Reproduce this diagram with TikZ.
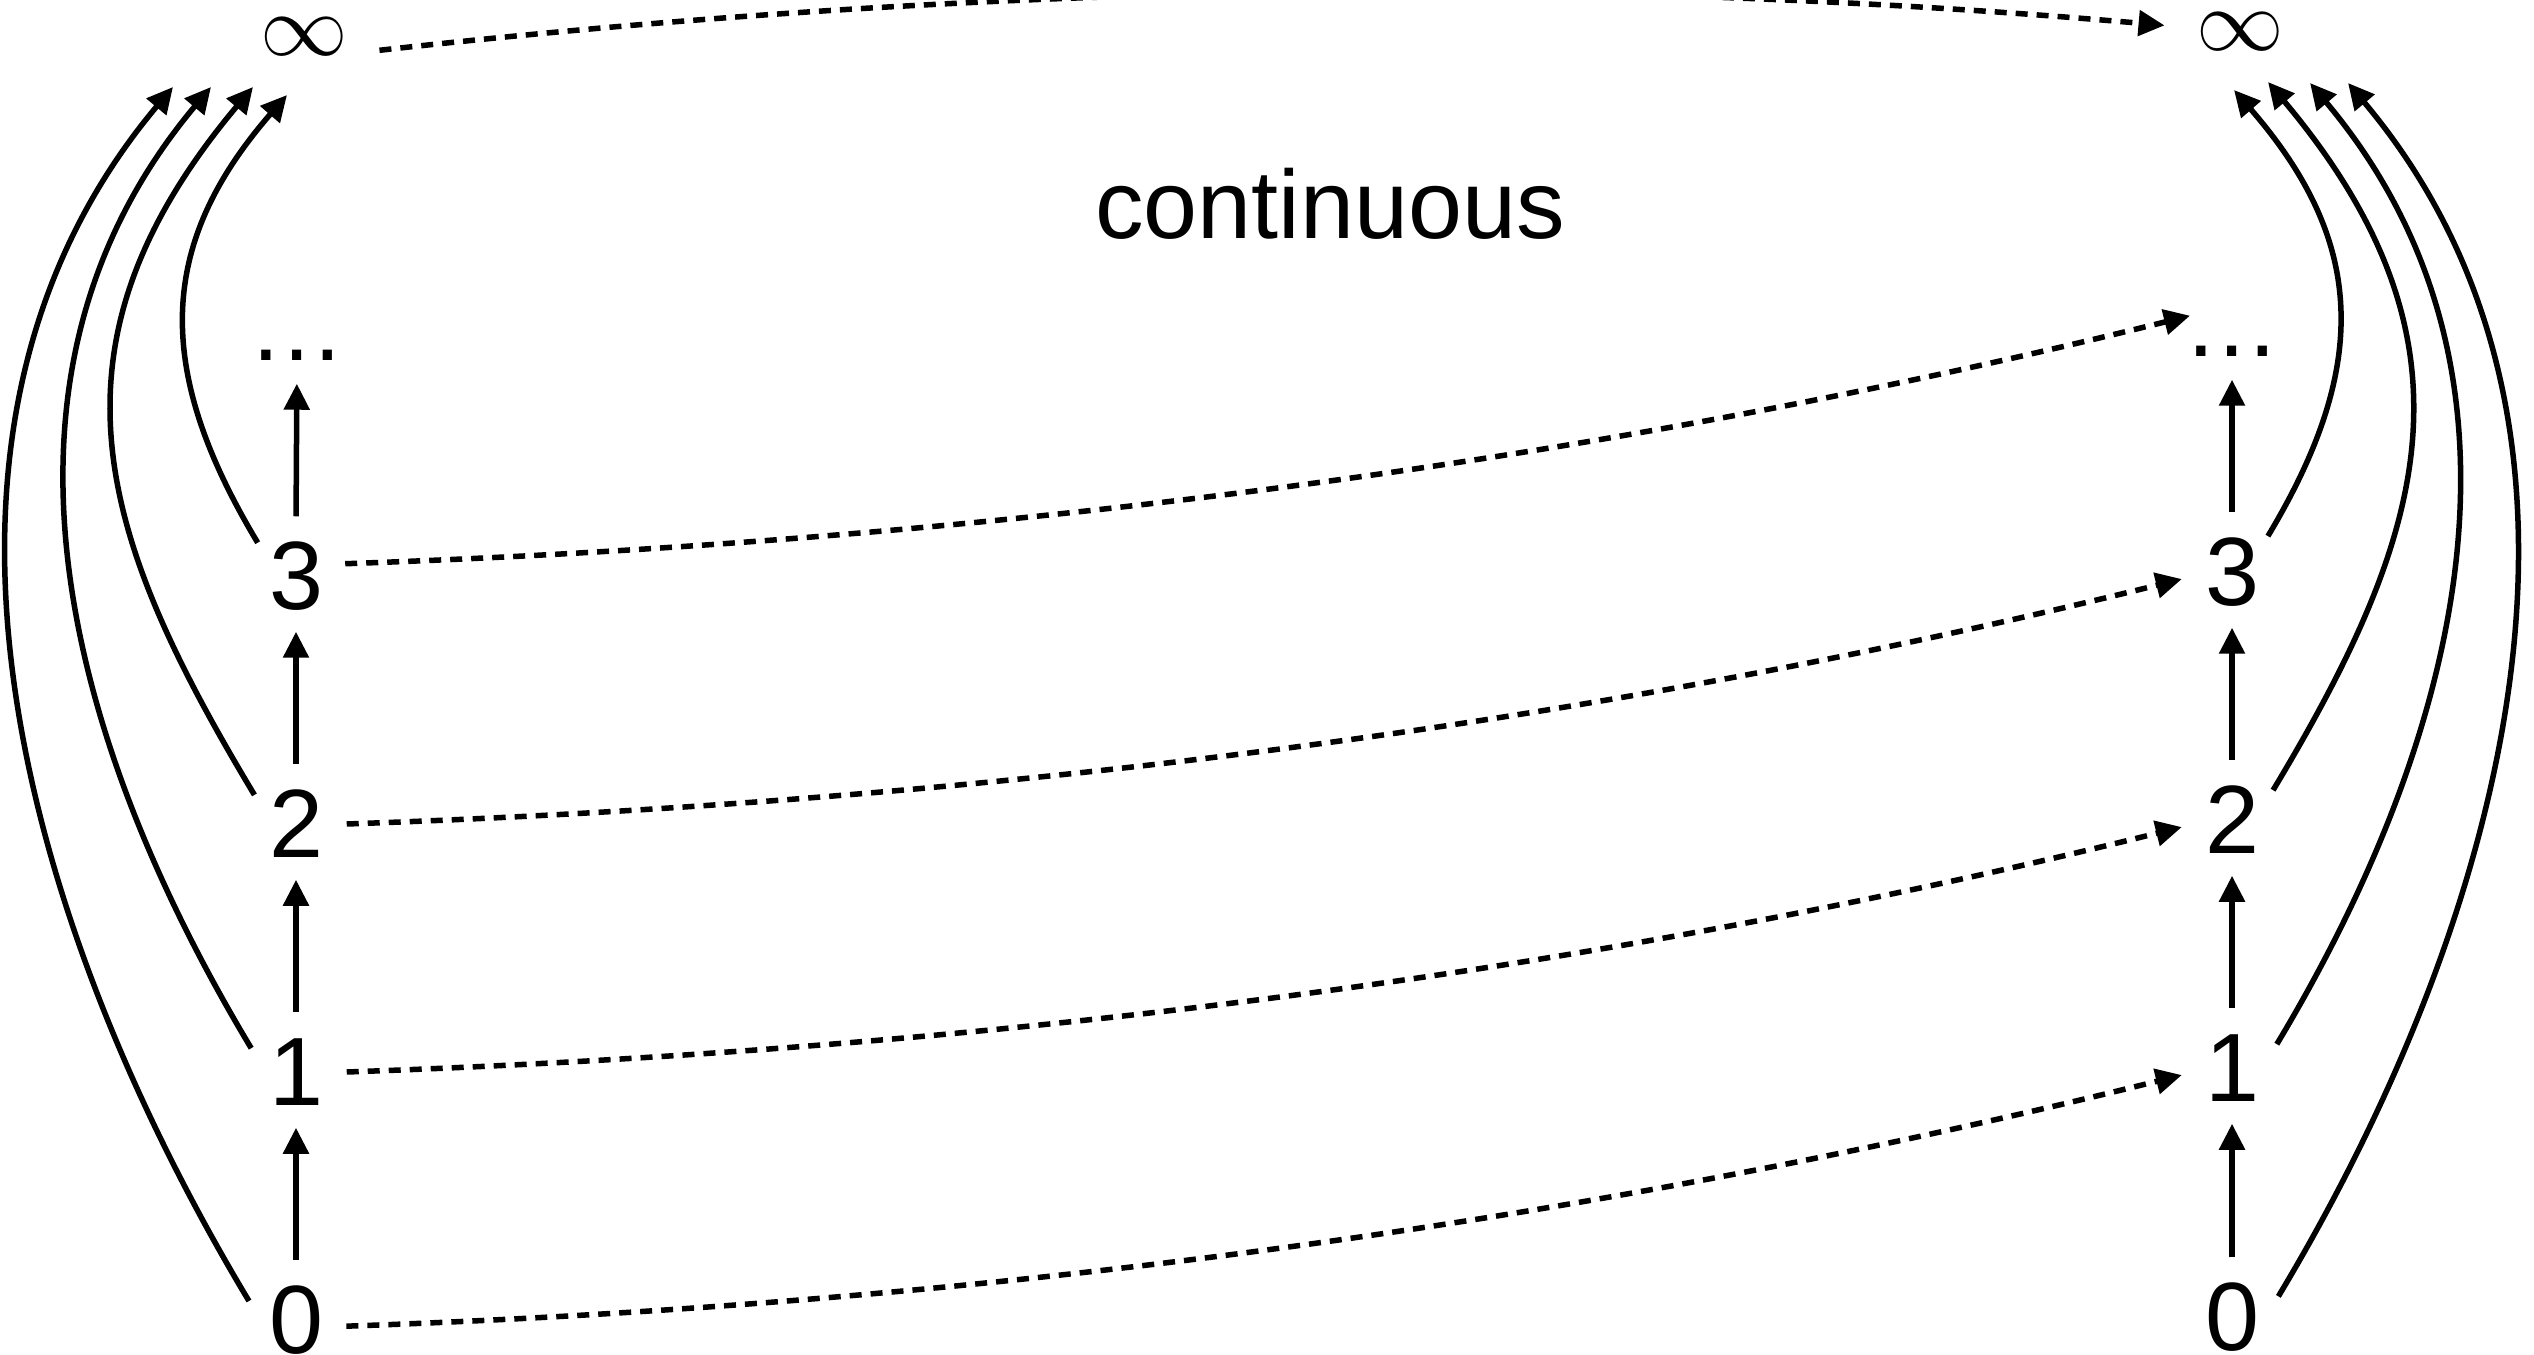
\documentclass[tikz,border=0pt]{standalone}
\usepackage{fontspec}
\setmainfont{Liberation Sans}
\usetikzlibrary{arrows.meta,calc}
\begin{document}
\begin{tikzpicture}[x=0.01cm,y=0.01cm,
  txt/.style={font=\fontsize{27.6pt}{33pt}\selectfont},
  num/.style={txt,circle,minimum size=1.0cm,inner sep=0pt},
  dots/.style={txt,rectangle,text height=0.69cm,text depth=0pt,inner sep=0pt,anchor=base},
  inf/.style={rectangle,inner xsep=0.31cm,inner ysep=0.05cm,font=\fontsize{24.2pt}{29pt}\selectfont},
  ln/.style={line width=0.055cm},
  arr/.style={ln,-{Triangle[length=0.26cm,width=0.25cm]}},
  up/.style={arr,shorten <=0.09cm,shorten >=0.05cm},
  dsh/.style={arr,dash pattern=on 0.12cm off 0.09cm},
  cross/.style={out=2,in=194,out distance=6.6cm,in distance=5.9cm},
]
\clip (0,0) rectangle (2534,1354);

% left column
\node[num] (l0) at (296,34) {0};
\node[num] (l1) at (296,282) {1};
\node[num] (l2) at (296,530) {2};
\node[num] (l3) at (296,778) {3};
\node[dots] (ld) at (297,993) {…};
\node[inf] (iL) at (304,1317) {$\infty$};

% right column
\node[num] (r0) at (2232,37) {0};
\node[num] (r1) at (2232,286) {1};
\node[num] (r2) at (2232,534) {2};
\node[num] (r3) at (2232,782) {3};
\node[dots] (rd) at (2232,997) {…};
\node[inf] (iR) at (2240,1322) {$\infty$};

\node[txt,anchor=base] (ct) at (1330,1115) {continuous};

% arrow targets near the infinity nodes
\coordinate (tL0) at ($(iL)+(-131,-50)$);
\coordinate (tL1) at ($(iL)+(-93,-50)$);
\coordinate (tL2) at ($(iL)+(-51,-50)$);
\coordinate (tL3) at ($(iL)+(-17,-58)$);
\coordinate (tR0) at ($(iR)+(108,-51)$);
\coordinate (tR1) at ($(iR)+(70,-51)$);
\coordinate (tR2) at ($(iR)+(28,-50)$);
\coordinate (tR3) at ($(iR)+(-6,-58)$);
\coordinate (rdT) at ($(rd.south)+(-42,42)$);

% vertical chains
\draw[up] (l0.north) -- (l1.south);
\draw[up] (l1.north) -- (l2.south);
\draw[up] (l2.north) -- (l3.south);
\draw[up,shorten >=0.22cm] (l3.north) -- (ld.south);
\draw[up] (r0.north) -- (r1.south);
\draw[up] (r1.north) -- (r2.south);
\draw[up] (r2.north) -- (r3.south);
\draw[up,shorten >=0.22cm] (r3.north) -- (rd.south);

% curved arrows to infinity (left)
\draw[arr] (l0.158) to[out=121,in=230,out distance=4.1cm,in distance=4.7cm] (tL0);
\draw[arr] (l1.152) to[out=121,in=230,out distance=3.4cm,in distance=3.9cm] (tL1);
\draw[arr] (l2.145) to[out=121,in=230,out distance=3.0cm,in distance=3.4cm] (tL2);
\draw[arr] (l3.139) to[out=121,in=229,out distance=2.0cm,in distance=2.0cm] (tL3);

% curved arrows to infinity (right)
\draw[arr] (r0.24) to[out=59,in=310,out distance=4.1cm,in distance=4.7cm] (tR0);
\draw[arr] (r1.28) to[out=59,in=310,out distance=3.4cm,in distance=3.9cm] (tR1);
\draw[arr] (r2.36) to[out=59,in=310,out distance=3.0cm,in distance=3.4cm] (tR2);
\draw[arr] (r3.45) to[out=59,in=311,out distance=2.0cm,in distance=2.0cm] (tR3);

% dashed cross arrows
\draw[dsh] (l0.-7) to[cross] (r1.188);
\draw[dsh] (l1.0) to[cross] (r2.188);
\draw[dsh] (l2.0) to[cross] (r3.188);
\draw[dsh] (l3.14) to[cross] (rdT);
\draw[dsh] (iL.-10) to[out=6.4,in=175,out distance=6.09cm,in distance=5.91cm] (iR.175);
\end{tikzpicture}
\end{document}
